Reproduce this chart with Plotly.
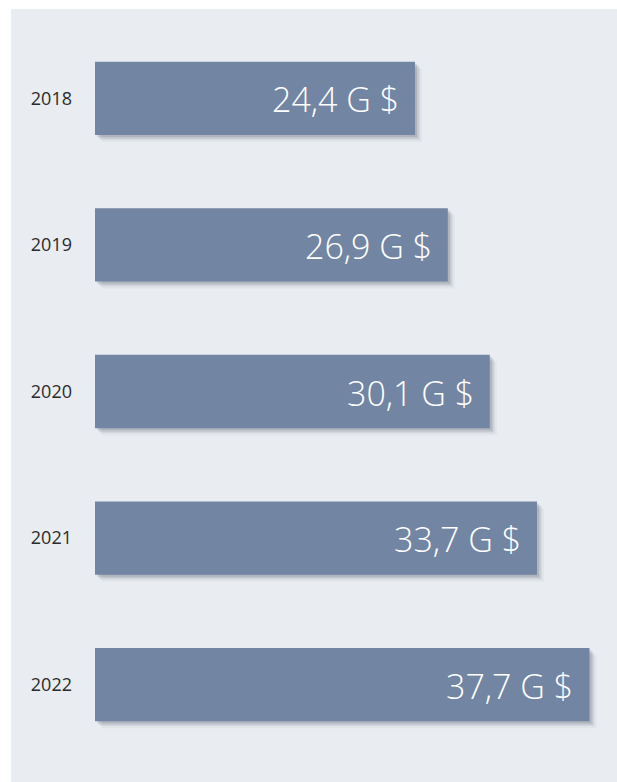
import plotly.graph_objects as go

years = ["2018", "2019", "2020", "2021", "2022"]
values = [24.4, 26.9, 30.1, 33.7, 37.7]
labels = ["24,4 G $", "26,9 G $", "30,1 G $", "33,7 G $", "37,7 G $"]

BAR_COLOR = "#7285a3"
PANEL = "#e9edf1"
W, H = 617, 782
ML, MR, MT, MB = 95, 0, 25, 24
PW = W - ML - MR
PH = H - MT - MB
XMAX = 39.8
px_x = XMAX / PW          # data units per pixel along x
px_y = 5 / PH             # category units per pixel along y
BW = 0.5

fig = go.Figure()

# soft drop shadow made from a few offset translucent copies of the bars
for d, a in [(7, 0.04), (5, 0.07), (3.5, 0.10), (2, 0.12)]:
    fig.add_trace(go.Bar(
        y=years, x=values, orientation="h",
        base=d * px_x, width=BW, offset=-BW / 2 + d * px_y,
        marker=dict(color=f"rgba(40,50,70,{a})", line=dict(width=0)),
        hoverinfo="skip", showlegend=False,
    ))

fig.add_trace(go.Bar(
    y=years, x=values, orientation="h",
    width=BW, offset=-BW / 2,
    marker=dict(color=BAR_COLOR, line=dict(width=0)),
    hoverinfo="skip", showlegend=False,
))

for i, (xv, t) in enumerate(zip(values, labels)):
    fig.add_annotation(
        x=xv, y=i, xref="x", yref="y", text=t, showarrow=False,
        xanchor="right", yanchor="middle", xshift=-14, yshift=-1,
        font=dict(family="Open Sans, sans-serif", size=34, weight=300, color="white"),
    )

fig.add_shape(
    type="rect", xref="paper", yref="paper", layer="below",
    x0=(11 - ML) / PW, x1=1.0, y0=-MB / PH, y1=1 + (MT - 9) / PH,
    fillcolor=PANEL, line=dict(width=0),
)

fig.update_layout(
    width=W, height=H,
    margin=dict(l=ML, r=MR, t=MT, b=MB),
    paper_bgcolor="white", plot_bgcolor="rgba(0,0,0,0)",
    barmode="overlay", bargap=0.5,
    xaxis=dict(range=[0, XMAX], visible=False, fixedrange=True),
    yaxis=dict(
        type="category", categoryorder="array", categoryarray=years,
        autorange=False, range=[len(years) - 0.5, -0.5],
        showgrid=False, zeroline=False, showline=False,
        ticks="", ticklabelstandoff=22,
        tickfont=dict(family="Open Sans, sans-serif", size=18, color="#2b2b2b"),
        fixedrange=True,
    ),
    showlegend=False,
)

fig.write_html("out.html", config={"displayModeBar": False})
